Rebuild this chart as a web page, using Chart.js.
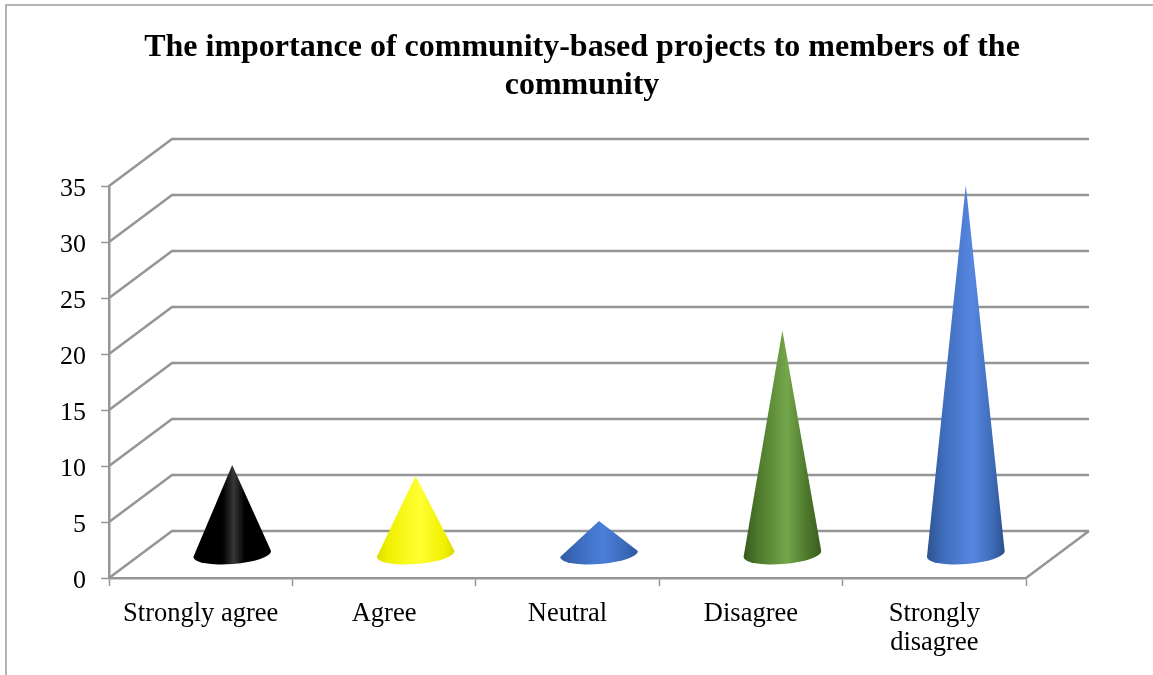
<!DOCTYPE html>
<html>
<head>
<meta charset="utf-8">
<style>
  html, body { margin: 0; padding: 0; background: #fff; }
  #wrap { position: absolute; left: 0; top: 0; width: 1153px; height: 675px; }
</style>
<script src="https://cdn.jsdelivr.net/npm/chart.js@4"></script>
</head>
<body>
<div id="wrap"><canvas id="chart" width="1153" height="675"></canvas></div>
<script>
const titleLines = ['The importance of community-based projects to members of the', 'community'];
const categories = ['Strongly agree', 'Agree', 'Neutral', 'Disagree', ['Strongly', 'disagree']];
const responses = [8, 7, 3, 20, 33];
const yTicks = [0, 5, 10, 15, 20, 25, 30, 35];
const coneShades = [
  [[0, '#000000'], [0.38, '#000000'], [0.52, '#383838'], [0.66, '#000000'], [1, '#000000']],
  [[0, '#dcdc00'], [0.15, '#f0f000'], [0.55, '#ffff33'], [0.88, '#f0f000'], [1, '#d8d800']],
  [[0, '#2f5ba6'], [0.2, '#3b6abb'], [0.55, '#4a7fd8'], [0.85, '#3a69ba'], [1, '#2c569e']],
  [[0, '#38591d'], [0.2, '#4f7a2c'], [0.56, '#74a64b'], [0.8, '#4f7a2c'], [1, '#3a5c1f']],
  [[0, '#2c528f'], [0.2, '#3f6cba'], [0.58, '#5686e0'], [0.84, '#3f6cba'], [1, '#2b4f8c']]
];

// Depth of the floor, in pixels, shared by the walls and the cones.
const DEPTH_X = 63;
const DEPTH_Y = 47;
const LINE_GREY = '#959595';
const SERIF = '"Liberation Serif", "Times New Roman", serif';

// Bar controller that paints each element as a shaded cone standing mid-floor.
class ConeController extends Chart.BarController {
  draw() {
    const ctx = this.chart.ctx;
    this.getMeta().data.forEach((bar, i) => {
      const cx = bar.x + DEPTH_X / 2;
      const baseY = bar.base - DEPTH_Y / 2;
      const tipY = bar.y - DEPTH_Y / 2;
      const rx = bar.width / 2;
      const ry = 10;
      const tilt = -4.5 * Math.PI / 180;
      const fill = ctx.createLinearGradient(cx - rx, 0, cx + rx, 0);
      coneShades[i].forEach(([stop, colour]) => fill.addColorStop(stop, colour));
      ctx.save();
      ctx.beginPath();
      ctx.moveTo(cx, tipY);
      ctx.lineTo(cx - rx * Math.cos(tilt), baseY - rx * Math.sin(tilt));
      ctx.ellipse(cx, baseY, rx, ry, tilt, Math.PI, 0, true);
      ctx.closePath();
      ctx.fillStyle = fill;
      ctx.fill();
      ctx.restore();
    });
  }
}
ConeController.id = 'cone';
ConeController.defaults = Chart.BarController.defaults;
ConeController.overrides = Chart.BarController.overrides;
Chart.register(ConeController);

// Outer frame plus the side wall, back wall and floor lines.
const wallsPlugin = {
  id: 'walls',
  afterUpdate(chart) {
    // Digits sit a little below the tick they belong to.
    chart.scales.y.getLabelItems().forEach(item => { item.options.translation[1] += 3; });
  },
  beforeDatasetsDraw(chart) {
    const { ctx, scales: { x, y } } = chart;
    const left = x.left, right = x.right;
    ctx.save();
    ctx.strokeStyle = '#b4b4b4';
    ctx.lineWidth = 2;
    ctx.beginPath();
    ctx.moveTo(6, 675);
    ctx.lineTo(6, 5);
    ctx.lineTo(1153, 5);
    ctx.stroke();

    ctx.strokeStyle = LINE_GREY;
    ctx.lineWidth = 2.5;
    ctx.beginPath();
    yTicks.forEach(v => {
      const py = y.getPixelForValue(v);
      ctx.moveTo(left, py);
      ctx.lineTo(left + DEPTH_X, py - DEPTH_Y);
      ctx.lineTo(right + DEPTH_X, py - DEPTH_Y);
    });
    const floorY = y.getPixelForValue(0);
    ctx.moveTo(right, floorY);
    ctx.lineTo(right + DEPTH_X, floorY - DEPTH_Y);
    ctx.stroke();
    ctx.restore();
  }
};

new Chart(document.getElementById('chart'), {
  type: 'cone',
  data: {
    labels: categories,
    datasets: [{ data: responses, yAxisID: 'y', xAxisID: 'x', barPercentage: 1, categoryPercentage: 0.425 }]
  },
  plugins: [wallsPlugin],
  options: {
    responsive: false,
    animation: false,
    events: [],
    layout: { padding: { left: 14, right: 3, top: 0, bottom: 0 } },
    plugins: {
      legend: { display: false },
      tooltip: { enabled: false },
      title: {
        display: true,
        text: titleLines,
        color: '#000',
        font: { family: SERIF, size: 32, weight: 'bold', lineHeight: 1.1875 },
        padding: { top: 29, bottom: 81 }
      }
    },
    scales: {
      x: {
        type: 'category',
        offset: true,
        afterFit(scale) { scale.height = 97; },
        grid: { offset: true, drawOnChartArea: false, drawTicks: true, tickLength: 8, tickColor: LINE_GREY, tickWidth: 1.5 },
        border: { display: true, color: LINE_GREY, width: 2.5 },
        ticks: {
          color: '#000',
          padding: 13,
          maxRotation: 0,
          autoSkip: false,
          font: { family: SERIF, size: 26.5, lineHeight: 1.1 }
        }
      },
      y: {
        type: 'linear',
        position: 'left',
        min: 0,
        max: 35,
        afterFit(scale) { scale.width = 95; },
        grid: { drawOnChartArea: false, drawTicks: true, tickLength: 8, tickColor: LINE_GREY, tickWidth: 1.5 },
        border: { display: true, color: LINE_GREY, width: 2.5 },
        ticks: {
          color: '#000',
          stepSize: 5,
          padding: 15,
          font: { family: SERIF, size: 26 }
        }
      },
      // Reserves the room the receding floor needs on the right.
      depthGutter: {
        type: 'linear',
        position: 'right',
        afterFit(scale) { scale.width = 124; },
        grid: { display: false },
        border: { display: false },
        ticks: { display: false }
      }
    }
  }
});
</script>
</body>
</html>
